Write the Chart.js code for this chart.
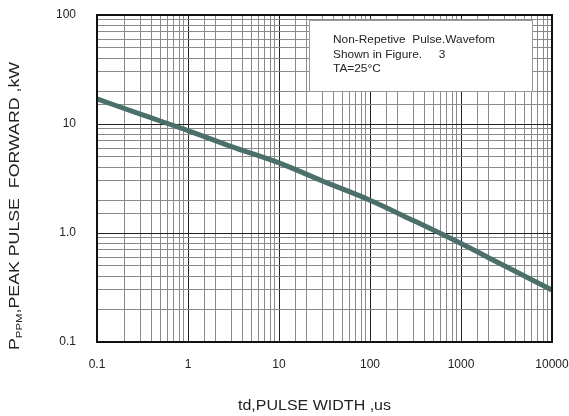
<!doctype html>
<html lang="en">
<head>
    <meta charset="UTF-8">
    <title>Peak pulse power vs pulse width</title>
    <script src="https://cdn.jsdelivr.net/npm/chart.js"></script>
    <style>
        html, body { margin: 0; padding: 0; background: #fff; overflow: hidden; }
    </style>
</head>
<body>
<canvas id="pulseChart" width="569" height="416"></canvas>
<script>
    // pulse width (us) and peak pulse power (kW)
    const pulseWidth = [0.1, 0.3, 1, 3, 10, 30, 100, 300, 1000, 3000, 10000];
    const peakPower  = [17, 12.3, 8.7, 6.2, 4.4, 3.0, 2.0, 1.3, 0.8, 0.5, 0.3];

    const xTickLabels = ['0.1', '1', '10', '100', '1000', '10000'];
    const yTickLabels = ['0.1', '1.0', '10', '100'];
    const noteLines = ['Non-Repetive  Pulse.Wavefom', 'Shown in Figure.     3', 'TA=25\u00B0C'];

    const FONT = '"Liberation Sans", Arial, sans-serif';

    function isDecade(v) {
        const l = Math.log10(v);
        return Math.abs(l - Math.round(l)) < 1e-6;
    }
    function gridColor(ctx) {
        return ctx.tick && isDecade(ctx.tick.value) ? '#222' : '#8a8a8a';
    }
    function decadeLabel(labels) {
        return function(value) {
            if (!isDecade(value)) return '';
            const idx = labels.findIndex(s => Math.abs(parseFloat(s) - value) < value * 1e-6);
            return idx >= 0 ? labels[idx] : '';
        };
    }
    // no automatic room for overhanging tick labels, the layout padding decides
    function noScalePadding(scale) {
        scale.paddingTop = 0;
        scale.paddingBottom = 0;
        scale.paddingLeft = 0;
        scale.paddingRight = 0;
    }
    // draw text squeezed/stretched to a given width
    function fitText(c, text, x, y, width) {
        const w = c.measureText(text).width;
        c.save();
        c.translate(x, y);
        c.scale(width / w, 1);
        c.fillText(text, 0, 0);
        c.restore();
    }

    // white note box, outer frame and axis titles
    const decorations = {
        id: 'decorations',
        beforeDatasetsDraw(chart) {
            const c = chart.ctx;
            c.save();
            c.fillStyle = '#fff';
            c.fillRect(309, 20, 224, 72);
            c.strokeStyle = '#999';
            c.lineWidth = 1;
            c.strokeRect(309.5, 20.5, 223, 71);
            c.fillStyle = '#222';
            c.font = '11px ' + FONT;
            c.textBaseline = 'middle';
            const lineY = [40, 54.5, 68.5];
            noteLines.forEach((t, i) => {
                const w = c.measureText(t).width * 1.08;
                fitText(c, t, 333, lineY[i], w);
            });
            c.restore();
        },
        afterDraw(chart) {
            const c = chart.ctx;
            const a = chart.chartArea;
            c.save();
            c.strokeStyle = '#111';
            c.lineWidth = 2;
            c.strokeRect(a.left, a.top, a.right - a.left, a.bottom - a.top);

            c.fillStyle = '#222';
            c.textBaseline = 'alphabetic';
            c.textAlign = 'left';
            c.font = '14px ' + FONT;
            fitText(c, 'td,PULSE WIDTH ,us', 238, 410, 153);

            // rotated y title with subscript, stretched along its length
            c.translate(19, 206);
            c.rotate(-Math.PI / 2);
            const p1 = 'P', sub = 'PPM', rest = ',PEAK PULSE  FORWARD ,kW';
            c.font = '14px ' + FONT;
            const w1 = c.measureText(p1).width;
            c.font = '9px ' + FONT;
            const w2 = c.measureText(sub).width;
            c.font = '14px ' + FONT;
            const w3 = c.measureText(rest).width;
            const total = w1 + w2 + w3;
            const k = 288 / total;
            c.scale(k, 1);
            let x = -total / 2;
            c.fillText(p1, x, 0);
            x += w1;
            c.font = '9px ' + FONT;
            c.fillText(sub, x, 3);
            x += w2;
            c.font = '14px ' + FONT;
            c.fillText(rest, x, 0);
            c.restore();
        }
    };

    const ctxPulse = document.getElementById('pulseChart').getContext('2d');
    const pulseChart = new Chart(ctxPulse, {
        type: 'line',
        data: {
            datasets: [{
                data: pulseWidth.map((w, i) => ({ x: w, y: peakPower[i] })),
                borderColor: '#4b6f6b',
                borderWidth: 5,
                pointRadius: 0,
                cubicInterpolationMode: 'monotone',
                fill: false
            }]
        },
        options: {
            responsive: false,
            animation: false,
            layout: { padding: { left: 0, right: 17, top: 15, bottom: 0 } },
            plugins: {
                legend: { display: false },
                tooltip: { enabled: false }
            },
            scales: {
                x: {
                    type: 'logarithmic',
                    min: 0.1,
                    max: 10000,
                    afterFit(scale) { scale.height = 74; noScalePadding(scale); },
                    grid: { color: gridColor, lineWidth: 1, drawTicks: false },
                    border: { display: false },
                    ticks: {
                        autoSkip: false,
                        maxRotation: 0,
                        padding: 15,
                        color: '#222',
                        font: { family: FONT, size: 12 },
                        callback: decadeLabel(xTickLabels)
                    }
                },
                y: {
                    type: 'logarithmic',
                    min: 0.1,
                    max: 100,
                    afterFit(scale) { scale.width = 97; noScalePadding(scale); },
                    grid: { color: gridColor, lineWidth: 1, drawTicks: false },
                    border: { display: false },
                    ticks: {
                        autoSkip: false,
                        padding: 21,
                        color: '#222',
                        font: { family: FONT, size: 12 },
                        callback: decadeLabel(yTickLabels)
                    }
                }
            }
        },
        plugins: [decorations]
    });
</script>
</body>
</html>
